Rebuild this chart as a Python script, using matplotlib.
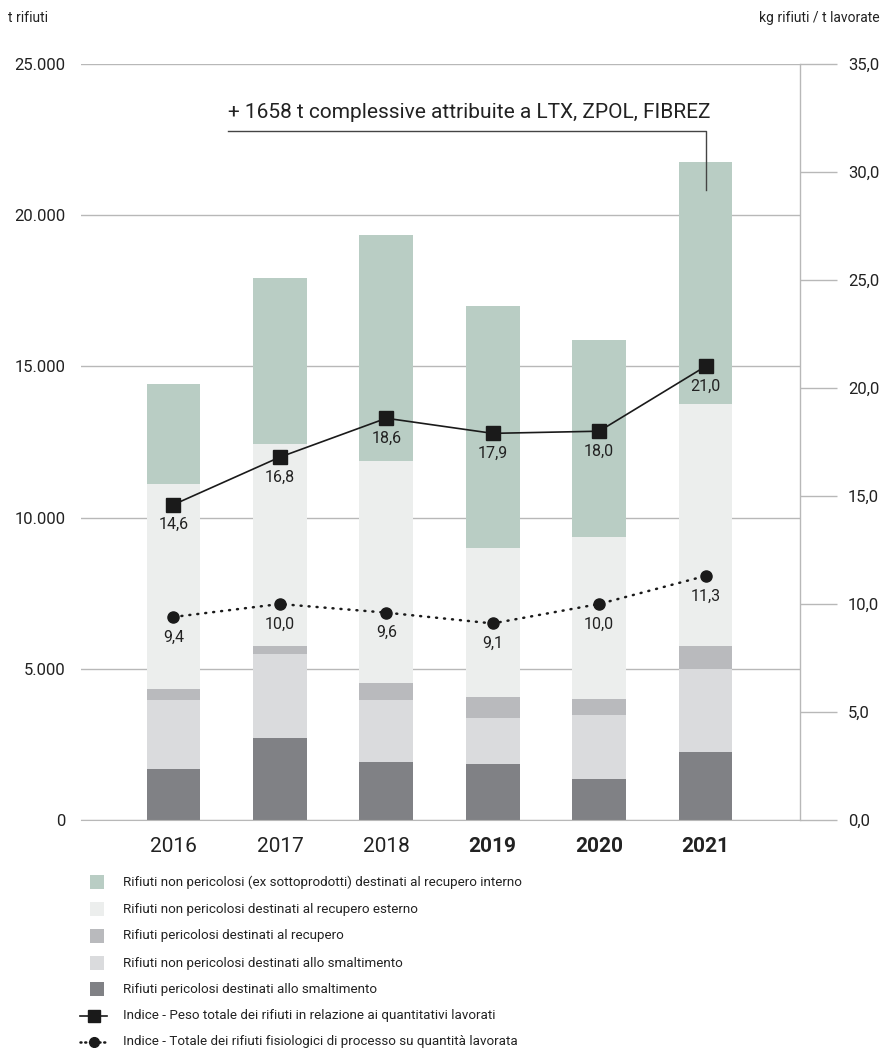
import numpy as np
import matplotlib.pyplot as plt
from matplotlib.patches import Rectangle
from matplotlib.lines import Line2D

plt.rcParams['font.family'] = ['Roboto', 'DejaVu Sans']

# data (t rifiuti, stacked bottom to top)
years = ['2016', '2017', '2018', '2019', '2020', '2021']
bold_years = ['2019', '2020', '2021']
peric_smalt = [1700, 2710, 1920, 1850, 1360, 2250]
nonperic_smalt = [2270, 2780, 2050, 1520, 2110, 2730]
peric_recup = [360, 260, 560, 700, 530, 770]
nonperic_recup_est = [6780, 6680, 7350, 4930, 5370, 8000]
nonperic_recup_int = [3310, 5490, 7460, 8000, 6500, 8000]
# indices (kg rifiuti / t lavorate)
idx_peso = [14.6, 16.8, 18.6, 17.9, 18.0, 21.0]
idx_fisio = [9.4, 10.0, 9.6, 9.1, 10.0, 11.3]

series = [
    (peric_smalt, '#808185', 'Rifiuti pericolosi destinati allo smaltimento'),
    (nonperic_smalt, '#dadbdd', 'Rifiuti non pericolosi destinati allo smaltimento'),
    (peric_recup, '#b9babd', 'Rifiuti pericolosi destinati al recupero'),
    (nonperic_recup_est, '#eceeed', 'Rifiuti non pericolosi destinati al recupero esterno'),
    (nonperic_recup_int, '#b9cdc4', 'Rifiuti non pericolosi (ex sottoprodotti) destinati al recupero interno'),
]

W, H = 886, 1048
fig = plt.figure(figsize=(W / 100, H / 100), dpi=100)
ax = fig.add_axes([81 / W, 1 - 820 / H, (800 - 81) / W, (820 - 64) / H])
ax2 = ax.twinx()

x = np.arange(len(years))
bottom = np.zeros(len(years))
for vals, col, lab in series:
    ax.bar(x, vals, 0.505, bottom=bottom, color=col, zorder=2)
    bottom = bottom + np.array(vals)

gridc = '#b8b8b8'
txtc = '#222222'
ax.set_ylim(0, 25000)
ax.set_xlim(-0.869, 5.888)
ax.set_yticks(np.arange(0, 25001, 5000))
ax.set_yticklabels(['0', '5.000', '10.000', '15.000', '20.000', '25.000'])
ax.grid(axis='y', color=gridc, linewidth=1.0, zorder=0)
ax.set_axisbelow(True)
ax.tick_params(axis='y', length=0, pad=11, labelsize=12, labelcolor=txtc)
ax.set_xticks(x)
ax.set_xticklabels(years)
ax.tick_params(axis='x', length=0, pad=12.5, labelsize=15, labelcolor=txtc)
for t in ax.get_xticklabels():
    if t.get_text() in bold_years:
        t.set_fontweight('bold')
for s in ['top', 'left', 'right']:
    ax.spines[s].set_visible(False)
ax.spines['bottom'].set_color(gridc)
ax.spines['bottom'].set_zorder(3)

ax2.set_ylim(0, 35)
ax2.set_yticks(np.arange(0, 35.1, 5))
ax2.set_yticklabels([('%.1f' % v).replace('.', ',') for v in np.arange(0, 35.1, 5)])
ax2.tick_params(axis='y', direction='out', length=26.6, width=1.0, color=gridc,
                pad=8, labelsize=12, labelcolor=txtc)
for s in ['top', 'left', 'bottom']:
    ax2.spines[s].set_visible(False)
ax2.spines['right'].set_color(gridc)
ax2.spines['right'].set_linewidth(1.0)

# index lines
ax2.plot(x, idx_peso, color='#1a1a1a', linewidth=1.2, marker='s', markersize=9.5, zorder=5)
ax2.plot(x, idx_fisio, color='#1a1a1a', linewidth=1.8, linestyle=(0, (0.4, 2.8)),
         dash_capstyle='round', marker='o', markersize=8, zorder=5)
for xi, v in zip(x, idx_peso):
    ax2.annotate(('%.1f' % v).replace('.', ','), (xi, v), xytext=(0, -14.5),
                 textcoords='offset points', ha='center', va='center', fontsize=11.5, color=txtc)
for xi, v in zip(x, idx_fisio):
    ax2.annotate(('%.1f' % v).replace('.', ','), (xi, v), xytext=(0, -14.5),
                 textcoords='offset points', ha='center', va='center', fontsize=11.5, color=txtc)

# annotation on 2021
fig.text(228 / W, 1 - 113 / H, '+ 1658 t complessive attribuite a LTX, ZPOL, FIBREZ',
         ha='left', va='center', fontsize=15, color=txtc)
fig.add_artist(Line2D([228 / W, 705.5 / W, 705.5 / W],
                      [1 - 130.5 / H, 1 - 130.5 / H, 1 - 190 / H],
                      color='#444444', linewidth=1.0))

# axis titles
fig.text(8 / W, 1 - 18 / H, 't rifiuti', ha='left', va='center', fontsize=10, color=txtc)
fig.text(880 / W, 1 - 18 / H, 'kg rifiuti / t lavorate', ha='right', va='center',
         fontsize=10, color=txtc)

# legend
rows_y = [882, 909, 936, 963, 989, 1016, 1042]
legend_items = [(c, l) for _, c, l in series[::-1]]
for (col, lab), yy in zip(legend_items, rows_y[:5]):
    fig.add_artist(Rectangle((90 / W, 1 - (yy + 7) / H), 14 / W, 14 / H,
                             facecolor=col, edgecolor='none'))
    fig.text(123 / W, 1 - yy / H, lab, ha='left', va='center', fontsize=9.6, color=txtc)
yy = rows_y[5]
fig.add_artist(Line2D([80 / W, 107 / W], [1 - yy / H, 1 - yy / H], color='#1a1a1a',
                      linewidth=1.2))
fig.add_artist(Line2D([93.5 / W], [1 - yy / H], color='#1a1a1a', marker='s', markersize=8))
fig.text(123 / W, 1 - yy / H, 'Indice - Peso totale dei rifiuti in relazione ai quantitativi lavorati',
         ha='left', va='center', fontsize=9.6, color=txtc)
yy = rows_y[6]
fig.add_artist(Line2D([80 / W, 107 / W], [1 - yy / H, 1 - yy / H], color='#1a1a1a',
                      linewidth=1.8, linestyle=(0, (0.4, 1.5)), dash_capstyle='round'))
fig.add_artist(Line2D([93.5 / W], [1 - yy / H], color='#1a1a1a', marker='o', markersize=7))
fig.text(123 / W, 1 - yy / H, 'Indice - Totale dei rifiuti fisiologici di processo su quantità lavorata',
         ha='left', va='center', fontsize=9.6, color=txtc)

fig.savefig('out.png', dpi=100)
